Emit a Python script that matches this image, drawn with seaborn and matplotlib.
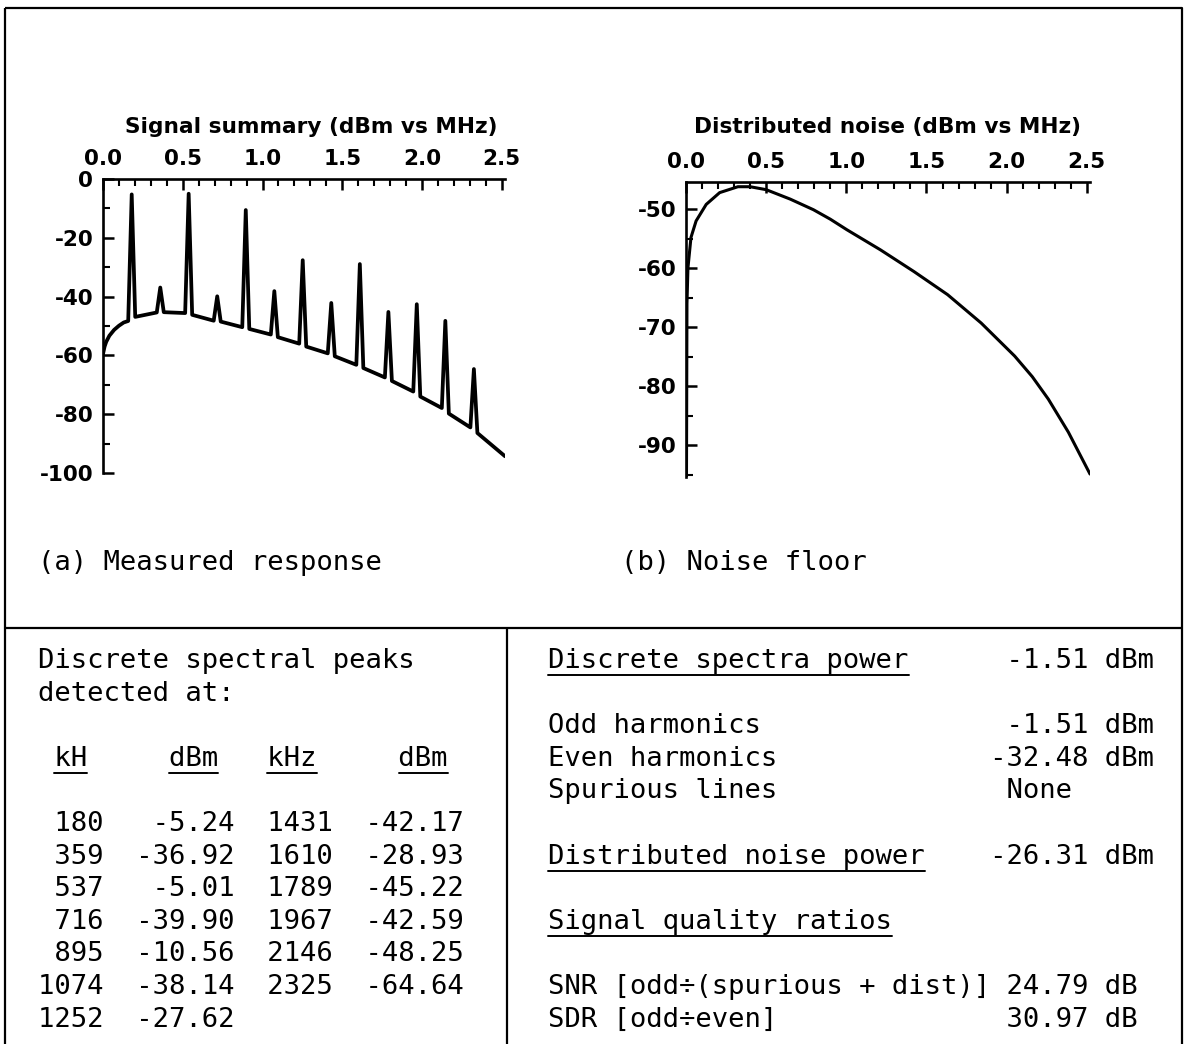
import numpy as np
import pandas as pd
import seaborn as sns
import matplotlib as mpl
from matplotlib import pyplot as plt
from matplotlib.ticker import MultipleLocator, FormatStrFormatter

sns.set_style("ticks")
mpl.rcParams["font.family"] = ["DejaVu Sans"]
mpl.rcParams["axes.unicode_minus"] = False
for key in ("text.color", "axes.edgecolor", "axes.labelcolor", "xtick.color", "ytick.color"):
    mpl.rcParams[key] = "black"

# discrete spectral peaks, as printed in the table
PEAK_KHZ = [180, 359, 537, 716, 895, 1074, 1252, 1431, 1610, 1789, 1967, 2146, 2325]
PEAK_DBM = [-5.24, -36.92, -5.01, -39.90, -10.56, -38.14, -27.62,
            -42.17, -28.93, -45.22, -42.59, -48.25, -64.64]

# floor level just before / just after each peak
FLOOR_BEFORE = [-48.3, -45.4, -45.6, -48.2, -50.4, -52.9, -56.0,
                -59.3, -63.2, -67.5, -72.3, -77.9, -84.5]
FLOOR_AFTER = [-46.9, -45.3, -46.2, -48.5, -51.0, -53.8, -57.0,
               -60.3, -64.3, -68.7, -74.0, -79.8, -86.4]

# rising edge at the left of panel a and the end point on the right
LEAD_MHZ = [0.0, 0.01, 0.02, 0.04, 0.07, 0.10, 0.13]
LEAD_DBM = [-59.5, -57.0, -55.4, -53.3, -51.3, -49.9, -48.8]
TAIL_MHZ = [2.52]
TAIL_DBM = [-94.3]

# distributed noise curve (panel b)
NOISE_MHZ = [0.003, 0.006, 0.012, 0.031, 0.063, 0.126, 0.21, 0.324, 0.40, 0.50,
             0.65, 0.795, 0.90, 1.004, 1.213, 1.423, 1.632, 1.841, 2.05, 2.16,
             2.26, 2.385, 2.52]
NOISE_DBM = [-95.3, -66.0, -60.0, -54.8, -52.0, -49.2, -47.2, -46.2, -46.2, -46.7,
             -48.3, -50.1, -51.7, -53.5, -56.9, -60.6, -64.5, -69.3, -74.9, -78.4,
             -82.2, -87.8, -94.9]

# summary block
SUMMARY_ROWS = [
    ("Discrete spectra power", "-1.51 dBm", True),
    ("", "", False),
    ("Odd harmonics", "-1.51 dBm", False),
    ("Even harmonics", "-32.48 dBm", False),
    ("Spurious lines", "None", False),
    ("", "", False),
    ("Distributed noise power", "-26.31 dBm", True),
    ("", "", False),
    ("Signal quality ratios", "", True),
    ("", "", False),
    ("SNR [odd÷(spurious + dist)]", "24.79 dB", False),
    ("SDR [odd÷even]", "30.97 dB", False),
]

W, H = 1186, 1044
MONO = "DejaVu Sans Mono"
MONO_SIZE = 19.6
CW = 0.60205 * MONO_SIZE * 100 / 72  # char pitch in px
PITCH = 32.6
HALF_W = 0.022  # half width of a drawn spectral line, MHz

fig = plt.figure(figsize=(W / 100, H / 100), dpi=100)

# pixel overlay for frame and text
over = fig.add_axes([0, 0, 1, 1])
over.set_xlim(0, W)
over.set_ylim(H, 0)
over.axis("off")


def frame(ax, xs, ys):
    ax.plot(xs, ys, color="black", lw=1.6, solid_capstyle="butt")


frame(over, [5, 1182, 1182], [8, 8, H])
frame(over, [5, 5], [8, H])
frame(over, [5, 1182], [628, 628])
frame(over, [507, 507], [628, H])


def build_spectrum():
    xs = list(LEAD_MHZ)
    ys = list(LEAD_DBM)
    for khz, top, lo, hi in zip(PEAK_KHZ, PEAK_DBM, FLOOR_BEFORE, FLOOR_AFTER):
        f = khz / 1000
        xs += [f - HALF_W, f, f + HALF_W]
        ys += [lo, top, hi]
    xs += TAIL_MHZ
    ys += TAIL_DBM
    return pd.DataFrame({"MHz": xs, "dBm": ys})


def style_axes(ax, ylim, ymaj, ymin):
    ax.set_facecolor("none")
    ax.set_xlim(0, 2.52)
    ax.set_ylim(*ylim)
    ax.xaxis.set_ticks_position("top")
    ax.spines["bottom"].set_visible(False)
    ax.spines["right"].set_visible(False)
    for s in ("top", "left"):
        ax.spines[s].set_linewidth(1.9)
    ax.xaxis.set_major_locator(MultipleLocator(0.5))
    ax.xaxis.set_minor_locator(MultipleLocator(0.1))
    ax.xaxis.set_major_formatter(FormatStrFormatter("%.1f"))
    ax.yaxis.set_major_locator(MultipleLocator(ymaj))
    ax.yaxis.set_minor_locator(MultipleLocator(ymin))
    ax.yaxis.set_major_formatter(FormatStrFormatter("%d"))
    ax.tick_params(which="major", direction="in", length=8, width=1.8,
                   labelsize=15.5, pad=7)
    ax.tick_params(which="minor", direction="in", length=5, width=1.5)
    ax.tick_params(axis="x", which="both", top=True, bottom=False,
                   labeltop=True, labelbottom=False)
    for lab in ax.get_xticklabels() + ax.get_yticklabels():
        lab.set_fontweight("bold")
    ax.set_xlabel("")
    ax.set_ylabel("")


# panel a: measured response
ax_a = fig.add_axes([103 / W, 1 - 473 / H, 402 / W, 294 / H])
spec = build_spectrum()
sns.lineplot(data=spec, x="MHz", y="dBm", ax=ax_a, color="black", lw=2.7,
             sort=False, estimator=None)
style_axes(ax_a, (-100, 0), 20, 10)
over.text(311, 133, "Signal summary (dBm vs MHz)", ha="center", va="baseline",
          fontsize=15.6, fontweight="bold")

# panel b: noise floor
ax_b = fig.add_axes([686 / W, 1 - 477 / H, 404 / W, 295 / H])
noise = pd.DataFrame({"MHz": NOISE_MHZ, "dBm": NOISE_DBM})
sns.lineplot(data=noise, x="MHz", y="dBm", ax=ax_b, color="black", lw=2.2,
             sort=False, estimator=None)
style_axes(ax_b, (-95.4, -45.4), 10, 5)
over.text(887, 133, "Distributed noise (dBm vs MHz)", ha="center", va="baseline",
          fontsize=15.6, fontweight="bold")


def mono(x, y, s):
    over.text(x, y, s, family=MONO, fontsize=MONO_SIZE, va="baseline", ha="left")


def underline(x0, y, c0, c1):
    over.plot([x0 + c0 * CW, x0 + c1 * CW], [y + 7, y + 7], color="black", lw=1.4)


mono(38, 570, "(a) Measured response")
mono(621, 570, "(b) Noise floor")

# left box: peak table
LX = 38
BASE = 668
mono(LX, BASE, "Discrete spectral peaks")
mono(LX, BASE + PITCH, "detected at:")
header = " kH     dBm   kHz     dBm"
hy = BASE + 3 * PITCH
mono(LX, hy, header)
pos = 0
for word in header.split():
    c0 = header.index(word, pos)
    underline(LX, hy, c0, c0 + len(word))
    pos = c0 + len(word)

half = 7
for i in range(half):
    line = f"{PEAK_KHZ[i]:>4}{PEAK_DBM[i]:>8.2f}"
    j = i + half
    if j < len(PEAK_KHZ):
        line += f"{PEAK_KHZ[j]:>6}{PEAK_DBM[j]:>8.2f}"
    mono(LX, BASE + (5 + i) * PITCH, line)

# right box: power summary
RX = 548
for i, (label, value, under) in enumerate(SUMMARY_ROWS):
    if not label:
        continue
    y = BASE + i * PITCH
    if value:
        col = 27 if len(value.split()[0]) >= 6 else 28
        line = label.ljust(col) + value
    else:
        line = label
    mono(RX, y, line)
    if under:
        underline(RX, y, 0, len(label))

fig.savefig("out.png", dpi=100)
